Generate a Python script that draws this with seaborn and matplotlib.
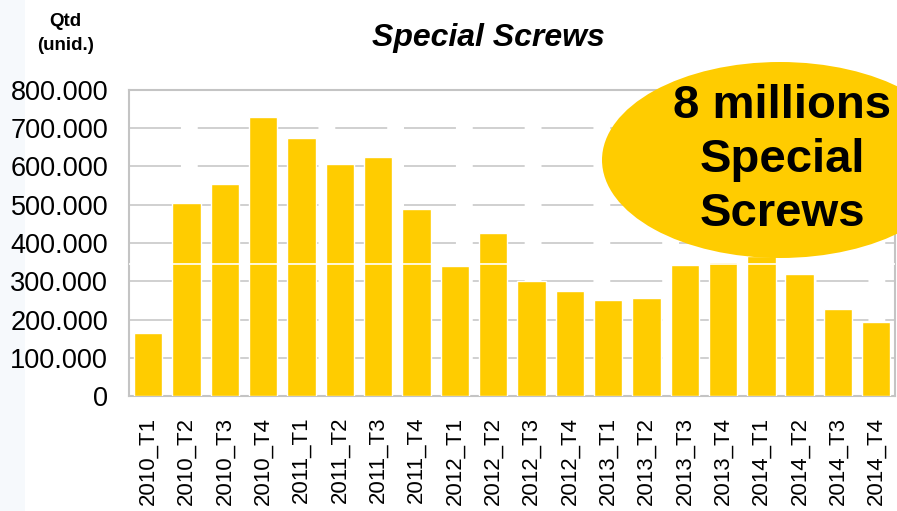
import numpy as np
import pandas as pd
import matplotlib
matplotlib.use("Agg")
import matplotlib.pyplot as plt
from matplotlib.patches import Ellipse, Rectangle
from matplotlib.ticker import FuncFormatter, FixedLocator
import seaborn as sns

# data (units)
quarters = ["2010_T1", "2010_T2", "2010_T3", "2010_T4",
            "2011_T1", "2011_T2", "2011_T3", "2011_T4",
            "2012_T1", "2012_T2", "2012_T3", "2012_T4",
            "2013_T1", "2013_T2", "2013_T3", "2013_T4",
            "2014_T1", "2014_T2", "2014_T3", "2014_T4"]
qtd = [165000, 505000, 554000, 730000,
       675000, 606000, 625000, 489000,
       340000, 426000, 300000, 275000,
       251000, 256000, 343000, 350000,
       365000, 319000, 227000, 193000]
y_ticks = [0, 100000, 200000, 300000, 400000, 500000, 600000, 700000, 800000]

title = "Special Screws"
y_label = "Qtd\n(unid.)"
bubble_text = "8 millions\nSpecial\nScrews"

df = pd.DataFrame({"quarter": quarters, "qtd": qtd})

sns.set_theme(style="white")
plt.rcParams["font.family"] = ["Liberation Sans", "DejaVu Sans"]
plt.rcParams["text.color"] = "black"

yellow = "#FFCC00"
grey = "#c4c4c4"

fig = plt.figure(figsize=(8.97, 5.11), dpi=100)
fig.patch.set_facecolor("white")
# very faint bluish strip on the left edge of the slide
fig.add_artist(Rectangle((0, 0), 0.028, 1, transform=fig.transFigure,
                         facecolor="#f6f9fc", edgecolor="none", zorder=0))

ax = fig.add_axes([0.1438, 0.225, 0.8545, 0.599])
sns.barplot(data=df, x="quarter", y="qtd", color=yellow, saturation=1,
            width=0.74, ax=ax, zorder=3)

ax.set_xlim(-0.5, len(quarters) - 0.5)
ax.set_ylim(0, 800000)
ax.set_yticks(y_ticks)
ax.yaxis.set_major_formatter(FuncFormatter(lambda v, p: "0" if v == 0 else f"{int(v):,}".replace(",", ".")))
ax.grid(axis="y", color=grey, linewidth=1.1, linestyle=(0, (34, 11)), zorder=1)
ax.set_axisbelow(True)

ax.set_xlabel("")
ax.set_ylabel("")
ax.set_xticks(range(len(quarters)))
ax.set_xticklabels(quarters, rotation=90, fontsize=16)
ax.xaxis.set_minor_locator(FixedLocator(np.arange(-0.5, len(quarters), 1.0)))
ax.tick_params(axis="x", which="major", length=0, pad=15, labelcolor="black")
ax.tick_params(axis="x", which="minor", length=6, width=1, color=grey, direction="out")
ax.tick_params(axis="y", length=6, width=1, color=grey, direction="out",
               labelsize=19.5, pad=9, labelcolor="black")

for s in ["left", "bottom", "top", "right"]:
    ax.spines[s].set_visible(True)
    ax.spines[s].set_color(grey)
    ax.spines[s].set_linewidth(1.5)

# thin white seam that crosses the bars in the original screenshot
ax.axhline(345000, color="white", linewidth=1.2, zorder=4)

fig.text(0.545, 0.925, title, ha="center", va="center", fontsize=23,
         fontweight="bold", fontstyle="italic", color="black")
fig.text(0.073, 0.935, y_label, ha="center", va="center", fontsize=13.5,
         fontweight="bold", linespacing=1.55, color="black")

# the callout bubble
fig.add_artist(Ellipse((780 / 897, 1 - 160 / 511), 356 / 897, 196 / 511,
                       transform=fig.transFigure, facecolor=yellow,
                       edgecolor="none", zorder=5))
fig.text(782 / 897, 1 - 160 / 511, bubble_text, ha="center", va="center",
         fontsize=34, fontweight="bold", linespacing=1.3, zorder=6,
         color="black")

fig.savefig("out.png", dpi=100)
